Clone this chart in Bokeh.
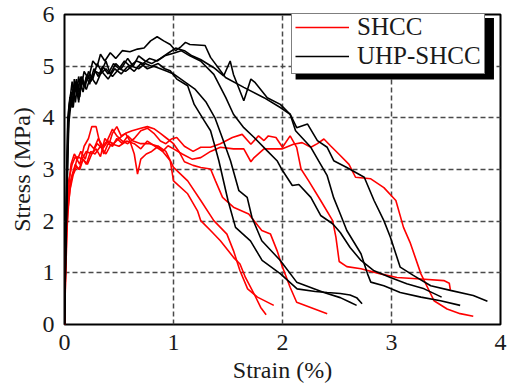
from bokeh.plotting import figure
from bokeh.models import Legend, LegendItem, BoxAnnotation, Range1d, FixedTicker
from bokeh.embed import file_html
from bokeh.resources import INLINE

# ---------------- data (strain %, stress MPa) ----------------
shcc_1_x = [0, 0.01, 0.02, 0.04, 0.07, 0.10, 0.14, 0.18, 0.22, 0.25, 0.29, 0.32, 0.36, 0.40, 0.44, 0.48, 0.53, 0.58, 0.63, 0.70, 0.78, 0.86, 0.93, 1.00, 1.13, 1.25, 1.37, 1.49, 1.55, 1.61, 1.68, 1.77, 1.92]
shcc_1_y = [0, 1.5, 2.3, 2.8, 3.1, 3.25, 3.1, 3.45, 3.6, 3.83, 3.83, 3.55, 3.3, 3.5, 3.45, 3.6, 3.5, 3.65, 3.55, 3.5, 3.5, 3.45, 3.35, 3.04, 2.78, 2.40, 2.01, 1.75, 1.43, 1.04, 0.69, 0.53, 0.37]

shcc_2_x = [0, 0.01, 0.02, 0.04, 0.07, 0.10, 0.13, 0.17, 0.21, 0.25, 0.29, 0.33, 0.37, 0.41, 0.44, 0.48, 0.52, 0.56, 0.60, 0.64, 0.67, 0.70, 0.75, 0.80, 0.86, 0.92, 0.97, 1.00, 1.13, 1.22, 1.25, 1.34, 1.43, 1.55, 1.61, 1.66, 1.74, 1.80, 1.85]
shcc_2_y = [0, 1.2, 2.0, 2.6, 2.9, 3.1, 3.0, 3.2, 3.1, 3.3, 3.4, 3.25, 3.6, 3.5, 3.7, 3.83, 3.65, 3.7, 3.55, 3.3, 2.91, 3.2, 3.3, 3.35, 3.45, 3.3, 3.17, 2.78, 2.53, 2.2, 2.01, 1.82, 1.62, 1.30, 1.17, 0.91, 0.59, 0.33, 0.19]

shcc_3_x = [0, 0.01, 0.02, 0.04, 0.06, 0.09, 0.12, 0.16, 0.20, 0.25, 0.30, 0.35, 0.40, 0.45, 0.50, 0.56, 0.62, 0.70, 0.76, 0.82, 0.88, 0.94, 1.00, 1.05, 1.10, 1.18, 1.25, 1.34, 1.385, 1.45, 1.55, 1.69, 1.81, 1.89, 1.95, 2.00, 2.07, 2.13, 2.41]
shcc_3_y = [0, 1.0, 1.8, 2.4, 2.8, 3.0, 3.25, 3.2, 3.35, 3.3, 3.5, 3.4, 3.55, 3.5, 3.6, 3.7, 3.75, 3.8, 3.83, 3.79, 3.7, 3.6, 3.5, 3.35, 3.15, 3.08, 3.04, 3.01, 2.78, 2.46, 2.27, 2.14, 1.82, 1.75, 1.43, 1.11, 0.72, 0.43, 0.21]

shcc_4_x = [0, 0.01, 0.02, 0.04, 0.06, 0.09, 0.12, 0.15, 0.19, 0.23, 0.27, 0.31, 0.35, 0.39, 0.44, 0.48, 0.53, 0.58, 0.64, 0.70, 0.76, 0.82, 0.88, 0.93, 0.98, 1.03, 1.10, 1.18, 1.25, 1.34, 1.43, 1.54, 1.63, 1.71, 1.78, 1.83, 1.87, 1.94, 2.00, 2.07, 2.13, 2.17, 2.24, 2.35, 2.46, 2.49, 2.52, 2.59, 2.72, 2.90, 3.05, 3.27, 3.48, 3.53, 3.54]
shcc_4_y = [0, 1.4, 2.2, 2.7, 3.1, 3.3, 3.2, 3.35, 3.2, 3.5, 3.4, 3.6, 3.45, 3.55, 3.78, 3.65, 3.55, 3.5, 3.6, 3.75, 3.8, 3.7, 3.55, 3.5, 3.59, 3.62, 3.45, 3.35, 3.43, 3.43, 3.5, 3.62, 3.68, 3.49, 3.65, 3.56, 3.65, 3.62, 3.43, 3.65, 3.43, 3.01, 2.78, 2.40, 2.01, 1.69, 1.22, 1.12, 1.08, 0.98, 0.91, 0.88, 0.85, 0.80, 0.67]

shcc_5_x = [0, 0.01, 0.02, 0.03, 0.05, 0.08, 0.11, 0.14, 0.17, 0.20, 0.24, 0.28, 0.33, 0.38, 0.43, 0.50, 0.57, 0.64, 0.70, 0.76, 0.83, 0.90, 0.95, 1.00, 1.08, 1.17, 1.25, 1.34, 1.43, 1.55, 1.645, 1.71, 1.74, 1.83, 2.00, 2.10, 2.18, 2.26, 2.32, 2.38, 2.44, 2.53, 2.61, 2.67, 2.81, 2.93, 3.04, 3.11, 3.17, 3.27, 3.36, 3.39, 3.51, 3.63, 3.75]
shcc_5_y = [0, 0.9, 1.6, 2.2, 2.6, 2.9, 3.05, 3.0, 3.2, 3.1, 3.35, 3.3, 3.45, 3.3, 3.5, 3.45, 3.55, 3.5, 3.4, 3.55, 3.45, 3.35, 3.46, 3.4, 3.3, 3.2, 3.23, 3.35, 3.43, 3.4, 3.40, 3.15, 3.23, 3.40, 3.40, 3.49, 3.52, 3.43, 3.50, 3.59, 3.46, 3.27, 3.10, 2.85, 2.82, 2.65, 2.40, 1.88, 1.59, 0.98, 0.59, 0.46, 0.30, 0.21, 0.16]

uhp_1_x = [0, 0.01, 0.02, 0.03, 0.05, 0.07, 0.09, 0.11, 0.13, 0.15, 0.18, 0.21, 0.24, 0.28, 0.33, 0.38, 0.44, 0.50, 0.56, 0.62, 0.68, 0.74, 0.80, 0.86, 0.92, 0.97, 1.03, 1.13, 1.19, 1.28, 1.34, 1.38, 1.416, 1.50, 1.569, 1.706, 1.813, 1.982, 2.134, 2.30, 2.41, 2.53, 2.62, 2.68, 2.73]
uhp_1_y = [0, 1.6, 2.6, 3.8, 4.35, 4.7, 4.45, 4.75, 4.3, 4.8, 4.6, 4.85, 4.7, 4.9, 4.85, 4.95, 4.8, 4.95, 4.9, 5.0, 4.95, 5.05, 5.0, 5.05, 4.95, 4.91, 4.75, 4.62, 4.26, 3.95, 3.75, 3.45, 3.17, 2.4, 1.88, 1.62, 1.24, 0.98, 0.69, 0.64, 0.62, 0.60, 0.57, 0.52, 0.40]

uhp_2_x = [0, 0.01, 0.02, 0.03, 0.04, 0.06, 0.08, 0.10, 0.13, 0.16, 0.20, 0.24, 0.29, 0.34, 0.40, 0.46, 0.52, 0.58, 0.64, 0.70, 0.76, 0.82, 0.88, 0.94, 1.00, 1.10, 1.20, 1.30, 1.38, 1.45, 1.523, 1.60, 1.676, 1.72, 1.81, 1.98, 2.13, 2.38, 2.53, 2.62, 2.68]
uhp_2_y = [0, 1.3, 2.3, 3.4, 4.1, 4.4, 4.2, 4.6, 4.35, 4.7, 4.55, 4.8, 4.65, 4.9, 4.75, 4.95, 4.85, 5.0, 4.9, 5.05, 4.95, 5.0, 4.95, 4.9, 4.85, 4.7, 4.55, 4.3, 4.0, 3.6, 3.17, 2.59, 2.46, 2.07, 1.62, 1.24, 0.82, 0.62, 0.52, 0.43, 0.37]

uhp_3_x = [0, 0.01, 0.02, 0.03, 0.04, 0.06, 0.08, 0.10, 0.12, 0.14, 0.17, 0.20, 0.23, 0.27, 0.31, 0.35, 0.40, 0.45, 0.50, 0.55, 0.60, 0.66, 0.72, 0.78, 0.85, 0.92, 1.00, 1.07, 1.15, 1.248, 1.37, 1.48, 1.55, 1.645, 1.74, 1.86, 1.95, 2.00, 2.09, 2.15, 2.26, 2.35, 2.46, 2.53, 2.62, 2.72, 2.84, 2.99, 3.14, 3.30, 3.46]
uhp_3_y = [0, 1.4, 2.4, 3.5, 4.2, 4.5, 4.3, 4.7, 4.5, 4.75, 4.5, 4.8, 4.65, 4.95, 4.8, 5.0, 4.85, 5.05, 4.95, 5.1, 5.0, 5.1, 5.05, 5.15, 5.1, 5.2, 5.25, 5.3, 5.2, 5.10, 4.84, 4.39, 4.07, 3.81, 3.62, 3.36, 3.17, 2.98, 2.69, 2.71, 2.46, 2.11, 1.95, 1.78, 1.49, 1.24, 1.04, 0.91, 0.79, 0.69, 0.53]

uhp_4_x = [0, 0.01, 0.02, 0.03, 0.04, 0.06, 0.08, 0.10, 0.12, 0.14, 0.16, 0.19, 0.22, 0.26, 0.30, 0.34, 0.38, 0.42, 0.47, 0.52, 0.58, 0.63, 0.68, 0.74, 0.80, 0.88, 0.95, 1.02, 1.10, 1.17, 1.248, 1.37, 1.46, 1.52, 1.55, 1.645, 1.71, 1.75, 1.86, 1.98, 2.07, 2.12, 2.26, 2.33, 2.41, 2.47, 2.53, 2.59, 2.72, 2.78, 2.81, 2.93, 3.08, 3.27, 3.45, 3.63]
uhp_4_y = [0, 1.2, 2.2, 3.2, 3.9, 4.3, 4.6, 4.3, 4.65, 4.4, 4.8, 4.6, 4.9, 4.75, 5.05, 4.9, 5.1, 4.85, 5.05, 4.95, 5.15, 5.0, 5.2, 5.1, 5.05, 5.15, 5.25, 5.35, 5.3, 5.2, 5.13, 4.97, 4.81, 5.10, 4.84, 4.33, 4.75, 4.68, 4.39, 4.26, 4.07, 3.75, 3.43, 3.17, 2.88, 2.45, 2.14, 1.82, 1.37, 0.98, 0.82, 0.75, 0.62, 0.53, 0.46, 0.37]

uhp_5_x = [0, 0.01, 0.02, 0.03, 0.05, 0.07, 0.09, 0.11, 0.13, 0.15, 0.18, 0.22, 0.26, 0.30, 0.33, 0.37, 0.42, 0.47, 0.53, 0.60, 0.67, 0.73, 0.79, 0.85, 0.91, 0.97, 1.02, 1.07, 1.11, 1.15, 1.29, 1.34, 1.477, 1.645, 1.83, 1.98, 2.07, 2.13, 2.23, 2.32, 2.41, 2.47, 2.59, 2.75, 2.84, 2.93, 2.99, 3.08, 3.20, 3.36, 3.54, 3.75, 3.88]
uhp_5_y = [0, 1.8, 3.0, 4.0, 4.4, 4.2, 4.75, 4.5, 4.8, 4.55, 4.9, 4.75, 5.1, 5.0, 5.23, 5.1, 5.26, 5.15, 5.30, 5.28, 5.33, 5.35, 5.49, 5.57, 5.49, 5.42, 5.3, 5.38, 5.46, 5.42, 5.40, 5.17, 4.78, 4.59, 4.39, 4.20, 4.07, 3.81, 3.88, 3.56, 3.43, 3.17, 3.04, 2.85, 2.40, 2.01, 1.69, 1.11, 0.95, 0.75, 0.66, 0.56, 0.45]

shcc_curves = [(shcc_1_x, shcc_1_y), (shcc_2_x, shcc_2_y), (shcc_3_x, shcc_3_y), (shcc_4_x, shcc_4_y), (shcc_5_x, shcc_5_y)]
uhp_curves = [(uhp_1_x, uhp_1_y), (uhp_2_x, uhp_2_y), (uhp_3_x, uhp_3_y), (uhp_4_x, uhp_4_y), (uhp_5_x, uhp_5_y)]

x_ticks = [0, 1, 2, 3, 4]
y_ticks = [0, 1, 2, 3, 4, 5, 6]
series_names = ["SHCC", "UHP-SHCC"]
series_colors = ["#ff0000", "#000000"]

FONT = "Liberation Serif"

p = figure(width=509, height=392, output_backend="svg", toolbar_location=None,
           x_range=Range1d(0, 4), y_range=Range1d(0, 6),
           min_border_left=64, min_border_right=9, min_border_top=14, min_border_bottom=68)
p.background_fill_color = "white"
p.border_fill_color = "white"
p.outline_line_color = "black"
p.outline_line_width = 2

for ax, ticks in ((p.xaxis, x_ticks), (p.yaxis, y_ticks)):
    ax.ticker = FixedTicker(ticks=ticks)
    ax.axis_line_color = None
    ax.major_tick_line_color = None
    ax.minor_tick_line_color = None
    ax.major_label_text_font = FONT
    ax.major_label_text_font_size = "24px"
    ax.major_label_text_color = "#1a1a1a"
    ax.axis_label_text_font = FONT
    ax.axis_label_text_font_size = "24px"
    ax.axis_label_text_font_style = "normal"
    ax.axis_label_text_color = "#1a1a1a"

p.xaxis.axis_label = "Strain (%)"
p.yaxis.axis_label = "Stress (MPa)"
p.xaxis.major_label_standoff = 4
p.yaxis.major_label_standoff = 4
p.xaxis.axis_label_standoff = 4
p.yaxis.axis_label_standoff = 5

p.grid.grid_line_color = "#4a4a4a"
p.grid.grid_line_dash = "5 3"
p.grid.grid_line_width = 1.5
p.xgrid.ticker = FixedTicker(ticks=x_ticks)
p.ygrid.ticker = FixedTicker(ticks=y_ticks)

red_r = []
blk_r = []
for xs, ys in shcc_curves:
    red_r.append(p.line(xs, ys, line_color=series_colors[0], line_width=1.6))
for xs, ys in uhp_curves:
    blk_r.append(p.line(xs, ys, line_color=series_colors[1], line_width=1.6))

# legend shadow
shadow = BoxAnnotation(left=2.12, right=3.94, top=5.93, bottom=4.74,
                       fill_color="black", fill_alpha=1.0, line_color=None)
p.add_layout(shadow)

legend = Legend(items=[LegendItem(label=series_names[0], renderers=[red_r[0]]),
                       LegendItem(label=series_names[1], renderers=[blk_r[0]])],
                location=(227, 250))
legend.label_text_font = FONT
legend.label_text_font_size = "25px"
legend.label_text_color = "#1a1a1a"
legend.glyph_width = 54
legend.glyph_height = 26
legend.label_height = 26
legend.label_standoff = 8
legend.padding = 3
legend.spacing = 1
legend.margin = 0
legend.border_line_color = "black"
legend.border_line_width = 1
legend.background_fill_color = "white"
legend.background_fill_alpha = 1.0
p.add_layout(legend)

open("out.html", "w").write(file_html(p, INLINE))
